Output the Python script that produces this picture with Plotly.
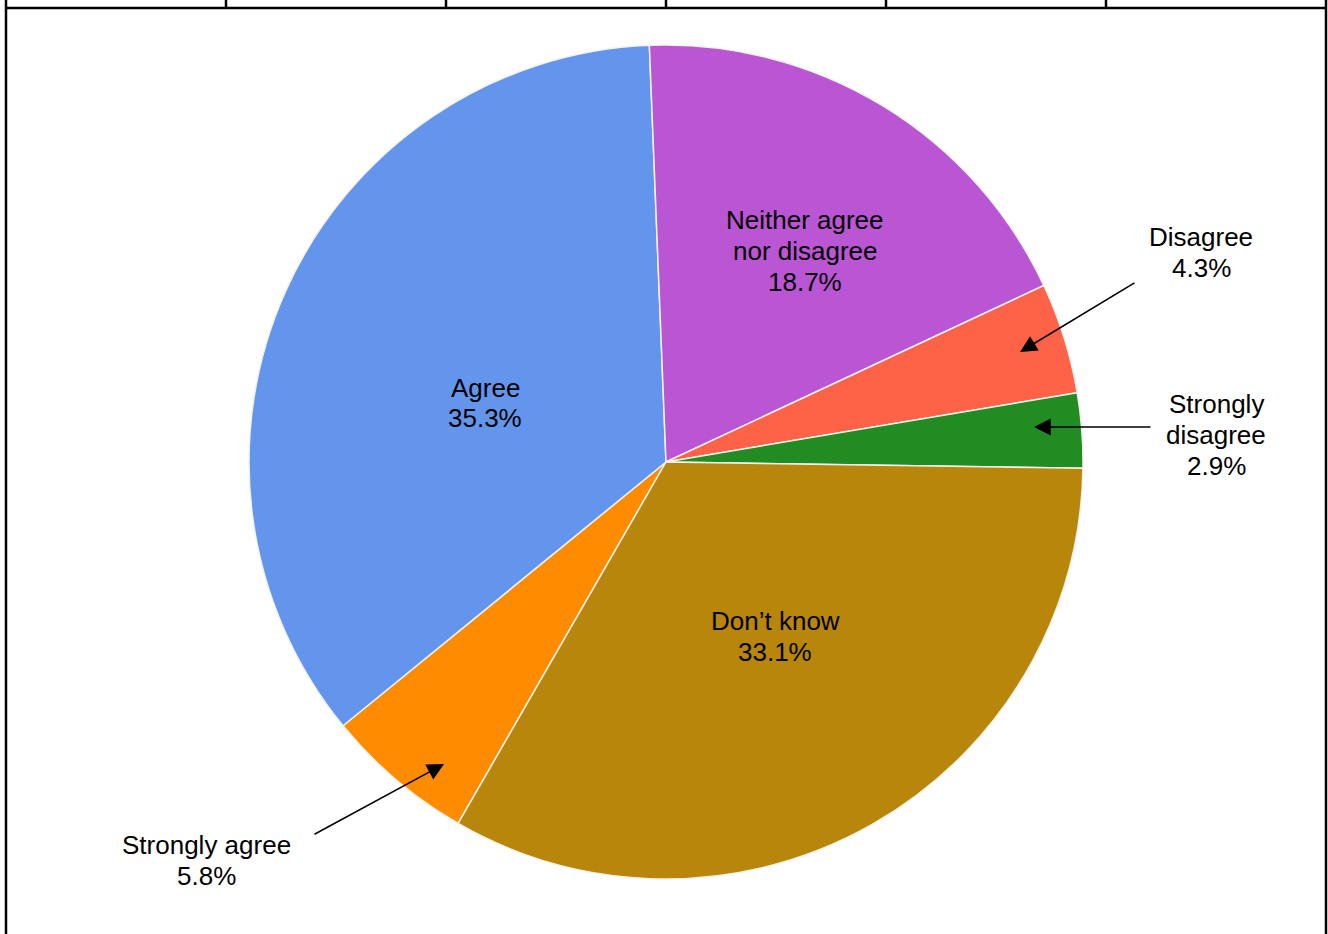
import plotly.graph_objects as go

# ---- data ----
categories = ["Strongly agree", "Agree", "Neither agree nor disagree",
              "Disagree", "Strongly disagree", "Don’t know"]
values = [5.8, 35.3, 18.7, 4.3, 2.9, 33.1]
display_lines = [["Strongly agree"], ["Agree"], ["Neither agree", "nor disagree"],
                 ["Disagree"], ["Strongly", "disagree"], ["Don’t know"]]
colors = ["#FF8C00", "#6495ED", "#BA55D3", "#FF6347", "#228B22", "#B8860B"]

# ---- layout geometry (pixels) ----
W, H = 1328, 934
CX, CY, R = 666, 462, 417
FONT = "Liberation Sans, Arial, sans-serif"
LINE_GAP = 31

# label placement: text centre, and optional arrow (head, tail)
label_layout = {
    "Strongly agree": dict(text=(206, 860), head=(444, 764), tail=(313, 835)),
    "Agree": dict(text=(485, 403)),
    "Neither agree nor disagree": dict(text=(805, 251)),
    "Disagree": dict(text=(1201, 252), head=(1020, 352), tail=(1136, 282)),
    "Strongly disagree": dict(text=(1216, 435), head=(1034, 427), tail=(1152, 427)),
    "Don’t know": dict(text=(775, 636)),
}


def px(x, y):
    return x / W, 1 - y / H


fig = go.Figure(go.Pie(
    labels=categories,
    values=values,
    sort=False,
    direction="clockwise",
    rotation=209.9,
    marker=dict(colors=colors, line=dict(color="#F2F2EE", width=1.5)),
    textinfo="none",
    hoverinfo="label+percent",
    showlegend=False,
    domain=dict(x=[(CX - R) / W, (CX + R) / W],
                y=[1 - (CY + R) / H, 1 - (CY - R) / H]),
))

annotations = []
for cat, lines, val in zip(categories, display_lines, values):
    lay = label_layout[cat]
    all_lines = lines + [f"{val:.1f}%"]
    n = len(all_lines)
    cx, cy = lay["text"]
    for i, line in enumerate(all_lines):
        ly = cy + (i - (n - 1) / 2) * LINE_GAP
        tx, ty = px(cx, ly)
        annotations.append(dict(
            x=tx, y=ty, xref="paper", yref="paper",
            text=line, showarrow=False,
            xanchor="center", yanchor="middle", align="center",
            font=dict(family=FONT, size=26, color="black"),
        ))
    if "head" in lay:
        hx, hy = lay["head"]
        sx, sy = lay["tail"]
        x0, y0 = px(hx, hy)
        annotations.append(dict(
            x=x0, y=y0, xref="paper", yref="paper",
            ax=sx - hx, ay=sy - hy, axref="pixel", ayref="pixel",
            text="", showarrow=True, arrowhead=2, arrowsize=2.1,
            arrowwidth=1.6, arrowcolor="black",
        ))

# table-like frame lines at the top and sides
shapes = []
line_style = dict(color="black", width=2.5)
x_left, x_right, y_top = 6, 1326, 8
shapes.append(dict(type="line", xref="paper", yref="paper",
                   x0=x_left / W, x1=x_right / W, y0=1 - y_top / H, y1=1 - y_top / H,
                   line=line_style))
for xv in [x_left, x_right]:
    shapes.append(dict(type="line", xref="paper", yref="paper",
                       x0=xv / W, x1=xv / W, y0=0, y1=1, line=line_style))
for xv in [226, 446, 666, 886, 1106]:
    shapes.append(dict(type="line", xref="paper", yref="paper",
                       x0=xv / W, x1=xv / W, y0=1 - y_top / H, y1=1,
                       line=line_style))

fig.update_layout(
    width=W, height=H,
    margin=dict(l=0, r=0, t=0, b=0),
    paper_bgcolor="white", plot_bgcolor="white",
    annotations=annotations, shapes=shapes,
    font=dict(family=FONT),
)

fig.write_html("out.html")
